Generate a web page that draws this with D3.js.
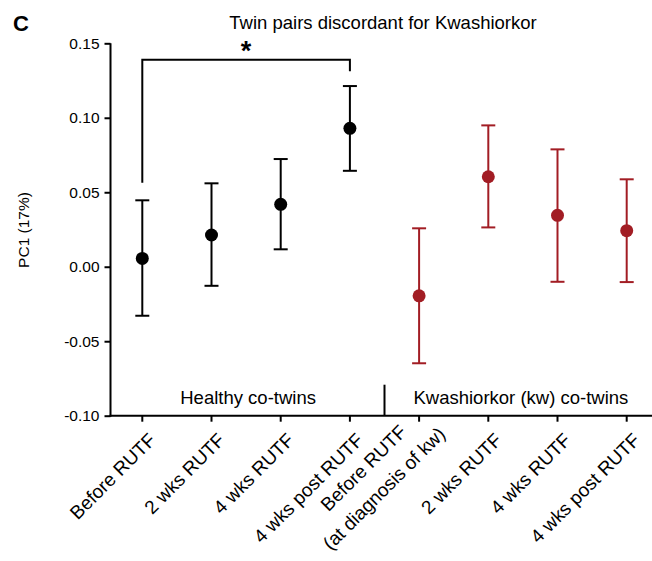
<!DOCTYPE html>
<html><head><meta charset="utf-8">
<script src="https://cdn.jsdelivr.net/npm/d3@7"></script>
<style>body{margin:0;background:#fff}svg{display:block;font-family:"Liberation Sans",Arial,Helvetica,sans-serif}</style>
</head><body><svg id="c" width="652" height="561"></svg>
<script>
const categories = ["h0","h2","h4","h8","k0","k2","k4","k8"];
const labels = [["Before RUTF"],["2 wks RUTF"],["4 wks RUTF"],["4 wks post RUTF"],["Before RUTF","(at diagnosis of kw)"],["2 wks RUTF"],["4 wks RUTF"],["4 wks post RUTF"]];
const groups = ["healthy","healthy","healthy","healthy","kw","kw","kw","kw"];
const means = [0.0056, 0.0213, 0.0419, 0.0929, -0.0195, 0.0604, 0.0345, 0.0242];
const upper = [0.0446, 0.0560, 0.0723, 0.1213, 0.0258, 0.0949, 0.0788, 0.0587];
const lower = [-0.0329, -0.0128, 0.0117, 0.0644, -0.0648, 0.0264, -0.0101, -0.0103];
const yTicks = [-0.10, -0.05, 0.00, 0.05, 0.10, 0.15];
const groupLabels = ["Healthy co-twins", "Kwashiorkor (kw) co-twins"];
const bracket = {from: "h0", to: "h8", top: 0.1389, leftEnd: 0.0564, rightEnd: 0.1313, label: "*"};

const svg = d3.select("#c");
const y = d3.scaleLinear().domain([-0.10, 0.15]).range([415.7, 43.3]);
const x = d3.scalePoint().domain(categories).range([142.3, 626.7]);
const colors = {healthy: "#000000", kw: "#a21d24"};
const axX = 110.5, axY = y(-0.10);

// y axis
const yAxis = d3.axisLeft(y).tickValues(yTicks).tickSize(6).tickPadding(5)
  .tickFormat(d => d3.format(".2f")(d).replace("−","-"));
const gy = svg.append("g").attr("transform", `translate(${axX},0)`).call(yAxis);
gy.select(".domain").remove();
gy.append("line").attr("x1",0).attr("x2",0).attr("y1",y(0.15)).attr("y2",y(-0.10)+1).attr("stroke","#000").attr("stroke-width",2);
gy.selectAll(".tick line").attr("stroke","#000").attr("stroke-width",2);
gy.selectAll(".tick text").attr("font-size",15.5).attr("fill","#000").attr("font-family","Liberation Sans, Arial, sans-serif");

// x axis
svg.append("line").attr("x1",axX-1).attr("x2",652).attr("y1",axY).attr("y2",axY).attr("stroke","#000").attr("stroke-width",2);
svg.selectAll(".xt").data(categories).join("line").attr("class","xt")
  .attr("x1",d=>x(d)).attr("x2",d=>x(d)).attr("y1",axY).attr("y2",axY+6).attr("stroke","#000").attr("stroke-width",2);
// divider
const divX = (x("h8")+x("k0"))/2;
svg.append("line").attr("x1",divX).attr("x2",divX).attr("y1",axY-31).attr("y2",axY).attr("stroke","#000").attr("stroke-width",2);

// group labels
svg.append("text").attr("x",(x("h0")+x("h8"))/2 + 2).attr("y",404).attr("text-anchor","middle").attr("font-size",18.5).text(groupLabels[0]);
svg.append("text").attr("x",(x("k0")+x("k8"))/2 - 2).attr("y",404).attr("text-anchor","middle").attr("font-size",18.5).text(groupLabels[1]);

// x labels
const xfs = 19;
categories.forEach((c,i) => {
  const lines = labels[i];
  if (lines.length === 1) {
    svg.append("text").attr("transform",`translate(${x(c)+5},${axY+16}) rotate(-45)`)
      .attr("text-anchor","end").attr("dy","0.71em").attr("font-size",xfs).text(lines[0]);
  } else {
    const g = svg.append("g").attr("transform",`translate(${x(c)-51},${axY+57}) rotate(-45)`);
    lines.forEach((t,j) => g.append("text").attr("x",0).attr("y",j*29).attr("text-anchor","middle").attr("font-size",xfs).text(t));
  }
});

// error bars
const cap = 7;
const eb = svg.append("g");
categories.forEach((c,i) => {
  const col = colors[groups[i]];
  const cx = x(c);
  eb.append("line").attr("x1",cx).attr("x2",cx).attr("y1",y(upper[i])).attr("y2",y(lower[i])).attr("stroke",col).attr("stroke-width",2);
  eb.append("line").attr("x1",cx-cap).attr("x2",cx+cap).attr("y1",y(upper[i])).attr("y2",y(upper[i])).attr("stroke",col).attr("stroke-width",2);
  eb.append("line").attr("x1",cx-cap).attr("x2",cx+cap).attr("y1",y(lower[i])).attr("y2",y(lower[i])).attr("stroke",col).attr("stroke-width",2);
});
svg.selectAll(".dot").data(categories).join("circle").attr("class","dot")
  .attr("cx",d=>x(d)).attr("cy",(d,i)=>y(means[i])).attr("r",6.5).attr("fill",(d,i)=>colors[groups[i]]);

// significance bracket
svg.append("path").attr("fill","none").attr("stroke","#000").attr("stroke-width",2)
  .attr("d",`M${x(bracket.from)},${y(bracket.leftEnd)}V${y(bracket.top)}H${x(bracket.to)}V${y(bracket.rightEnd)}`);
svg.append("text").attr("x",(x(bracket.from)+x(bracket.to))/2).attr("y",60).attr("text-anchor","middle")
  .attr("font-size",27).attr("font-weight","bold").text(bracket.label);

// title, panel letter, y label
svg.append("text").attr("x",383).attr("y",29).attr("text-anchor","middle").attr("font-size",18.5).text("Twin pairs discordant for Kwashiorkor");
svg.append("text").attr("x",13).attr("y",31).attr("font-size",22).attr("font-weight","bold").text("C");
svg.append("text").attr("transform",`translate(29,230) rotate(-90)`).attr("text-anchor","middle").attr("font-size",15.5).text("PC1 (17%)");
</script></body></html>
